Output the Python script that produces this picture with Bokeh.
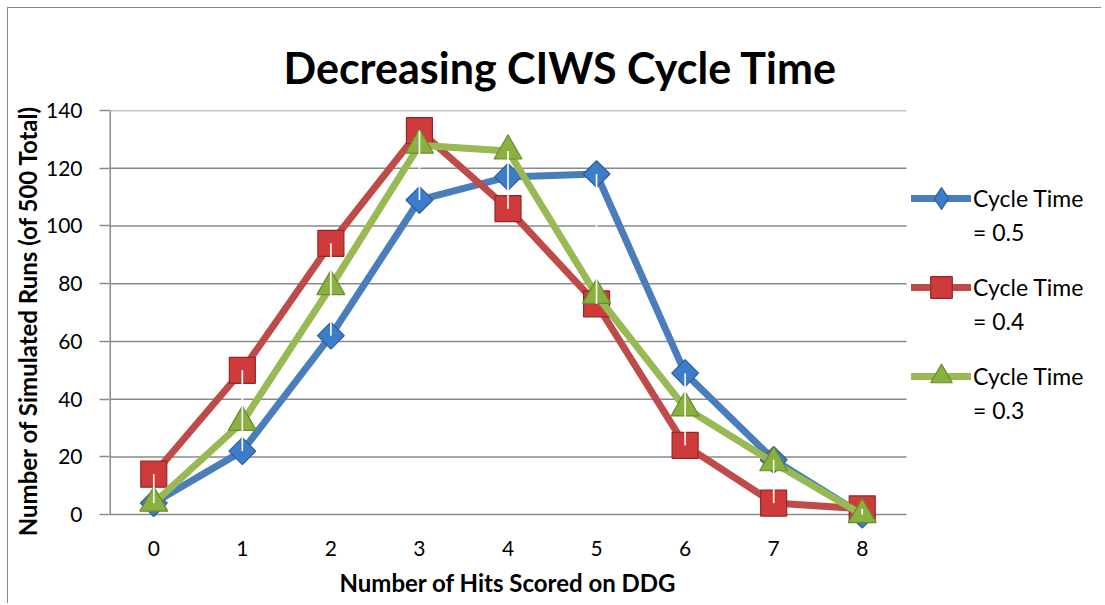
import math
from bokeh.plotting import figure
from bokeh.models import Range1d, FixedTicker, Legend, LegendItem, Title
from bokeh.embed import file_html
from bokeh.resources import INLINE

# ---------------- data ----------------
hits = [0, 1, 2, 3, 4, 5, 6, 7, 8]
x_labels = ["0", "1", "2", "3", "4", "5", "6", "7", "8"]
y_ticks = [0, 20, 40, 60, 80, 100, 120, 140]
ct_05 = [4, 22, 62, 109, 117, 118, 49, 19, 0]
ct_04 = [14, 50, 94, 133, 106, 73, 24, 4, 2]
ct_03 = [4, 32, 79, 128, 126, 76, 37, 18, 0]
legend_head = "Cycle Time"
legend_values = ["= 0.5", "= 0.4", "= 0.3"]
title_text = "Decreasing CIWS Cycle Time"
x_title = "Number of Hits Scored on DDG"
y_title = "Number of Simulated Runs (of 500 Total)"

# ---------------- style / layout ----------------
FONT = "Lato"
GRID = "#8a8a8a"
line_colors = ["#4A7EBB", "#BE4B48", "#98B954"]
fill_colors = ["#3D7CCB", "#CE3B3A", "#8AB040"]
edge_colors = ["#2B5E9C", "#8C2A29", "#6B8A30"]
markers = ["square", "square", "triangle"]
angles = [math.pi / 4, 0, 0]
sizes = [19, 26, 28]

W, H = 1094, 596
LEFT, TOP, BOTTOM = 101, 102, 74
PX_PER_CAT = 797 / 9.0          # horizontal pixels per category
x_start = -0.5
x_end = x_start + (W - LEFT) / PX_PER_CAT
y_start = -5.5

p = figure(width=W, height=H, output_backend="svg", toolbar_location=None,
           x_range=Range1d(x_start, x_end), y_range=Range1d(y_start, y_ticks[-1]),
           min_border_left=LEFT, min_border_right=0, min_border_top=TOP,
           min_border_bottom=BOTTOM)
p.styles = {"margin-left": "7px", "margin-top": "7px",
            "border-left": "1.5px solid #868686", "border-top": "1.5px solid #868686"}
p.outline_line_color = None
p.background_fill_color = "white"
p.border_fill_color = "white"

# title
p.title.text = title_text
p.title.text_font = FONT
p.title.text_font_size = "43px"
p.title.text_font_style = "bold"
p.title.text_color = "black"
p.title.align = "left"
p.title.offset = 174
p.title.standoff = 36

# x axis
xa = p.xaxis[0]
xa.ticker = FixedTicker(ticks=hits)
xa.major_label_overrides = {h: l for h, l in zip(hits, x_labels)}
xa.axis_line_color = None
xa.major_tick_line_color = None
xa.minor_tick_line_color = None
xa.major_label_standoff = 4
xa.major_label_text_font = FONT
xa.major_label_text_font_size = "21px"
xa.major_label_text_color = "black"

xt = Title(text=x_title, align="left", offset=230, standoff=15,
           text_font=FONT, text_font_size="24px", text_font_style="bold",
           text_color="black")
p.add_layout(xt, "below")

# y axis
ya = p.yaxis[0]
ya.ticker = FixedTicker(ticks=y_ticks)
ya.axis_line_color = None
ya.major_tick_line_color = GRID
ya.major_tick_line_width = 1.5
ya.major_tick_out = 10
ya.major_tick_in = 0
ya.minor_tick_line_color = None
ya.major_label_standoff = 17
ya.major_label_text_font = FONT
ya.major_label_text_font_size = "21px"
ya.major_label_text_color = "black"
ya.axis_label = y_title
ya.axis_label_text_font = FONT
ya.axis_label_text_font_size = "24px"
ya.axis_label_text_font_style = "bold"
ya.axis_label_text_color = "black"
ya.axis_label_standoff = 1

# gridlines only across the category area
p.xgrid.visible = False
p.ygrid.visible = False
n_t = len(y_ticks)
p.segment(x0=[x_start] * n_t, y0=y_ticks, x1=[hits[-1] + 0.5] * n_t, y1=y_ticks,
          line_color=GRID, line_width=1.5)
# vertical axis line from 0 to top tick
p.segment(x0=[x_start], y0=[y_ticks[0]], x1=[x_start], y1=[y_ticks[-1]],
          line_color=GRID, line_width=3)

# series
series = [ct_05, ct_04, ct_03]
line_rs, legend_marks = [], []
for i, vals in enumerate(series):
    lr = p.line(hits, vals, line_color=line_colors[i], line_width=7,
                line_join="round", line_cap="round")
    if i == 0:
        # diamond glyph used only for the legend swatch (size 0 on the plot)
        lm = p.scatter(hits, vals, marker="diamond", size=0,
                       fill_color=fill_colors[i], line_color=edge_colors[i],
                       line_width=1.2)
    mr = p.scatter(hits, vals, marker=markers[i], size=sizes[i], angle=angles[i],
                   fill_color=fill_colors[i], line_color=edge_colors[i], line_width=1.2)
    line_rs.append(lr)
    legend_marks.append(lm if i == 0 else mr)

# high-low lines (white)
hi = [max(v) for v in zip(*series)]
lo = [min(v) for v in zip(*series)]
p.segment(x0=hits, y0=hi, x1=hits, y1=lo, line_color="white", line_width=1.6)

# legends (positioned in px from frame bottom-left)
LEG_X = 802
head_centers = [332, 243, 154]
val_centers = [298, 209, 120]
for i in range(3):
    lg = Legend(items=[LegendItem(label=legend_head,
                                  renderers=[line_rs[i], legend_marks[i]])],
                location=(LEG_X, head_centers[i] - 27),
                glyph_width=60, glyph_height=54, label_height=30, label_standoff=2,
                padding=0, margin=0, spacing=0, border_line_color=None,
                background_fill_alpha=0, label_text_font=FONT,
                label_text_font_size="23px", label_text_color="black")
    p.add_layout(lg, "center")
    dummy = p.scatter(x=[], y=[], fill_alpha=0, line_alpha=0)
    lv = Legend(items=[LegendItem(label=legend_values[i], renderers=[dummy])],
                location=(LEG_X, val_centers[i] - 15),
                glyph_width=60, glyph_height=30, label_height=30, label_standoff=2,
                padding=0, margin=0, spacing=0, border_line_color=None,
                background_fill_alpha=0, label_text_font=FONT,
                label_text_font_size="23px", label_text_color="black")
    p.add_layout(lv, "center")

open("out.html", "w").write(file_html(p, INLINE))
